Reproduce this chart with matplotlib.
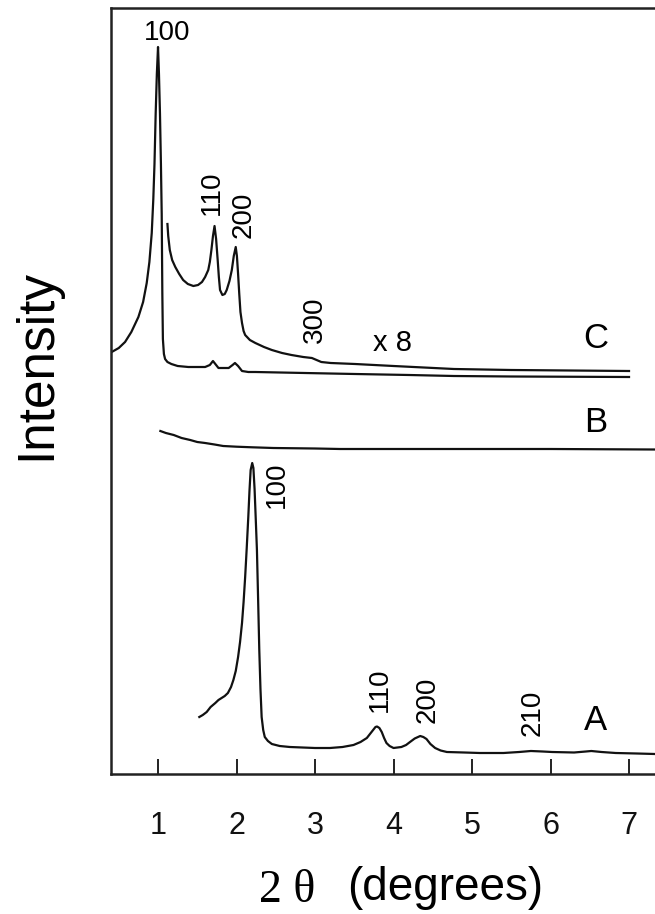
import matplotlib
matplotlib.use('Agg')
import matplotlib.pyplot as plt

plt.rcParams['font.family'] = ['Liberation Sans', 'DejaVu Sans']

# pattern A (calcined), read as 2theta / intensity pairs
two_theta_a = [1.526, 1.57, 1.62, 1.67, 1.73, 1.77, 1.81, 1.85, 1.89, 1.93, 1.96, 1.99,
               2.02, 2.045, 2.07, 2.09, 2.11, 2.13, 2.15, 2.165, 2.18, 2.20, 2.215,
               2.23, 2.245, 2.26, 2.275, 2.29, 2.305, 2.32, 2.34, 2.36, 2.40, 2.45,
               2.55, 2.68, 3.00, 3.19, 3.35, 3.49, 3.58, 3.66, 3.71, 3.74, 3.77, 3.79,
               3.82, 3.85, 3.88, 3.91, 3.95, 4.00, 4.10, 4.16, 4.21, 4.27, 4.34, 4.38,
               4.42, 4.47, 4.53, 4.60, 4.68, 4.90, 5.10, 5.40, 5.60, 5.75, 5.90, 6.02,
               6.30, 6.45, 6.52, 6.65, 6.83, 7.10, 7.33]
intensity_a = [57, 59, 62, 67, 71, 74, 76, 78, 81, 87, 94, 103,
               117, 132, 151, 172, 197, 226, 257, 283, 304, 311, 306,
               285, 255, 224, 175, 124, 85, 57, 44, 37, 33, 30,
               28, 27, 26, 26, 27, 29, 32, 36, 41, 44, 47, 47.5,
               46, 42, 36, 31, 28, 26, 27, 29, 32, 35.5, 38, 37,
               35, 30, 26, 23.5, 22, 21.5, 21, 21, 22, 23, 22.5, 22,
               21.5, 22.5, 23, 22, 21, 20.5, 20]

# pattern B
two_theta_b = [1.03, 1.10, 1.20, 1.30, 1.41, 1.50, 1.60, 1.72, 1.83, 2.00, 2.20, 2.47,
               3.00, 3.32, 4.77, 6.00, 7.33]
intensity_b = [343, 341, 339, 336, 334, 332, 331, 329.5, 328, 327.3, 326.7, 326,
               325.5, 325, 325, 325, 324.5]

# pattern C, as measured
two_theta_c = [0.41, 0.50, 0.58, 0.66, 0.75, 0.81, 0.856, 0.89, 0.92, 0.94, 0.955,
               0.97, 0.985, 1.00, 1.012, 1.025, 1.037, 1.047, 1.055, 1.062, 1.075,
               1.09, 1.12, 1.17, 1.25, 1.386, 1.60, 1.66, 1.70, 1.73, 1.77, 1.90,
               1.95, 1.98, 2.02, 2.07, 2.15, 2.24, 2.87, 3.51, 4.20, 4.77, 5.50, 7.00]
intensity_c = [422, 426, 432, 442, 457, 472, 491, 512, 541, 575, 610,
               660, 700, 727, 700, 660, 610, 560, 480, 435, 420,
               415, 412, 410, 408, 407, 407, 409, 413, 410, 406, 406,
               409, 411, 408, 403, 402, 402, 401, 400, 399, 398, 397.5, 397]

# pattern C, magnified x8
two_theta_c8 = [1.12, 1.13, 1.15, 1.18, 1.22, 1.27, 1.32, 1.38, 1.45, 1.51, 1.56,
                1.60, 1.64, 1.66, 1.68, 1.70, 1.72, 1.74, 1.76, 1.775, 1.79, 1.82,
                1.85, 1.875, 1.91, 1.94, 1.965, 1.99, 2.005, 2.02, 2.035, 2.05, 2.07,
                2.09, 2.11, 2.17, 2.24, 2.35, 2.45, 2.58, 2.70, 2.85, 2.96, 3.02,
                3.08, 3.20, 3.51, 4.00, 4.77, 5.50, 7.00]
intensity_c8 = [550, 538, 524, 514, 507, 500, 494, 490, 488, 489, 492,
                497, 504, 512, 524, 538, 548, 535, 514, 497, 484, 479,
                480, 484, 493, 504, 518, 527, 518, 500, 480, 462, 451,
                443, 439, 434, 431, 427, 424, 421, 419, 417, 416, 414,
                412, 411, 410, 408, 405, 404, 403]

# reflection labels: text, x, y, rotation
peak_labels = [
    ('100', 1.115, 741, 0), ('110', 1.69, 581, 90), ('200', 2.09, 559, 90),
    ('300', 3.0, 454, 90),
    ('100', 2.51, 289, 90), ('110', 3.83, 84, 90), ('200', 4.44, 74, 90),
    ('210', 5.77, 61, 90),
]
curve_names = [('C', 6.57, 436), ('B', 6.58, 351), ('A', 6.57, 54)]

W, H = 655, 914
fig = plt.figure(figsize=(W / 100, H / 100), dpi=100)
ax = fig.add_axes([111 / W, 1 - 774 / H, 1 - 111 / W, 766.5 / H])

line_kw = dict(color='#111111', lw=1.6, solid_joinstyle='round')
ax.plot(two_theta_a, intensity_a, **line_kw)
ax.plot(two_theta_b, intensity_b, **line_kw)
ax.plot(two_theta_c, intensity_c, **line_kw)
ax.plot(two_theta_c8, intensity_c8, **line_kw)

for txt, x, y, rot in peak_labels:
    ax.text(x, y, txt, rotation=rot, ha='center', va='center', fontsize=20)
for name, x, y in curve_names:
    ax.text(x, y, name, ha='center', va='center', fontsize=25)
ax.text(3.99, 431, 'x 8', ha='center', va='center', fontsize=21)

ax.set_xlim(0.401, 7.331)
ax.set_ylim(0, 766.5)
ax.set_xticks([1, 2, 3, 4, 5, 6, 7])
ax.set_yticks([])
ax.tick_params(axis='x', direction='in', length=11, width=1.3, pad=27,
               labelsize=22, colors='#111111')
ax.spines['right'].set_visible(False)
for s in ('left', 'top', 'bottom'):
    ax.spines[s].set_linewidth(1.8)
    ax.spines[s].set_color('#222222')

fig.text(37 / W, 1 - 364 / H, 'Intensity', rotation=90, ha='center', va='center',
         fontsize=37)
fig.text(259 / W, 1 - 902 / H, '2 θ', ha='left', va='baseline', fontsize=33,
         family=['Liberation Serif', 'DejaVu Serif'])
fig.text(347 / W, 1 - 900 / H, '(degrees)', ha='left', va='baseline', fontsize=33)

fig.savefig('out.png', dpi=100)
